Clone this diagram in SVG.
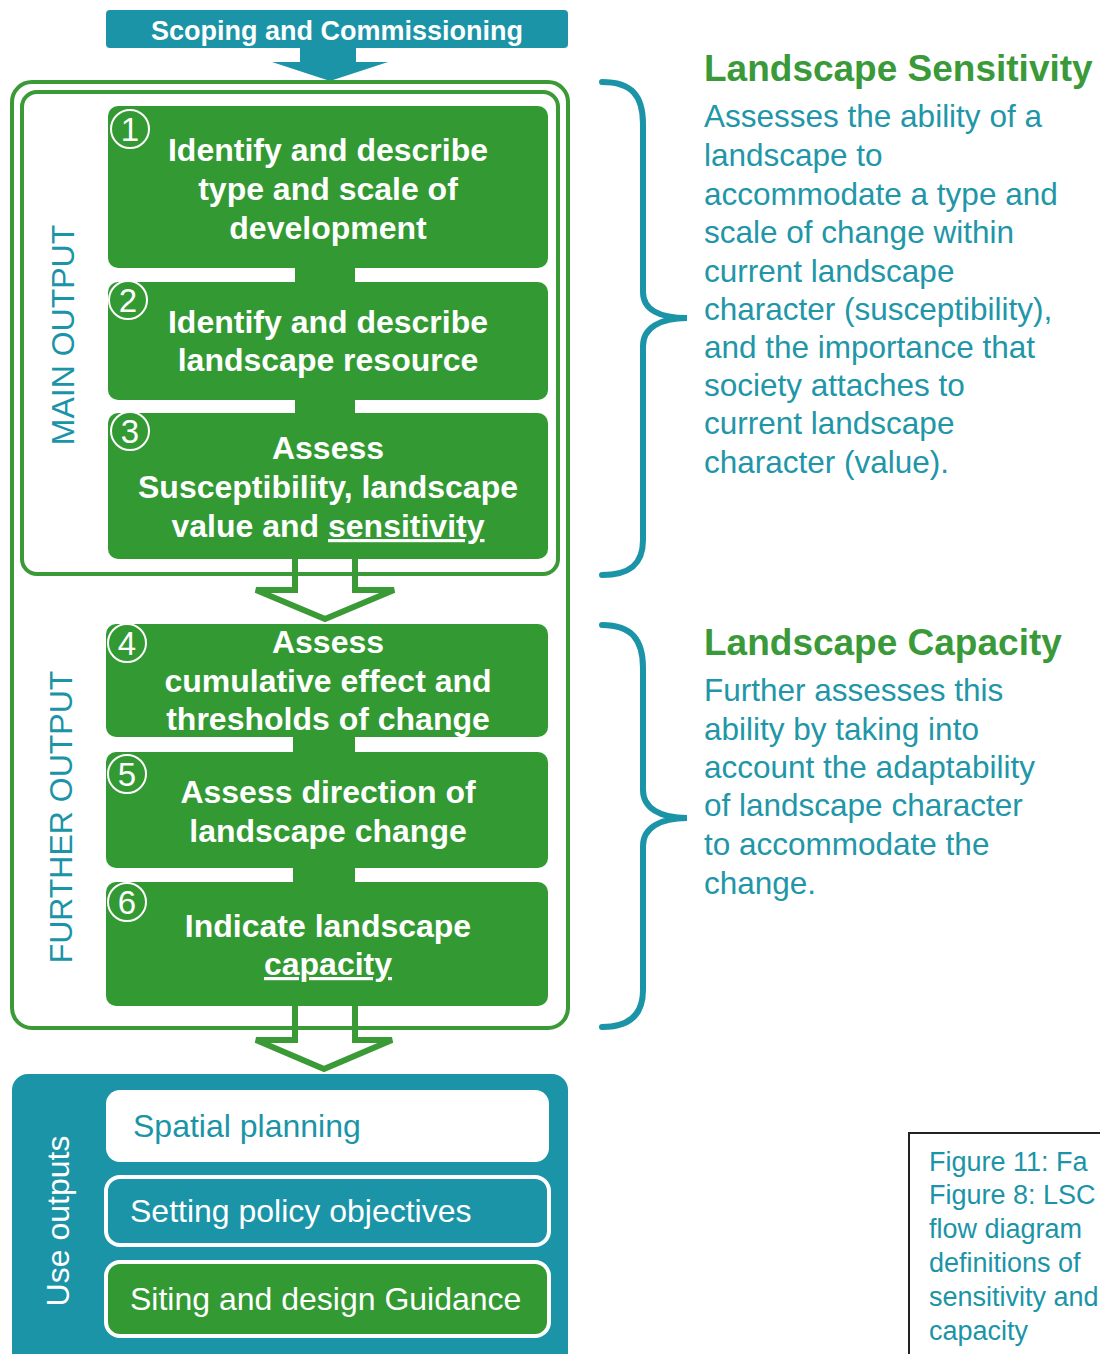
<svg xmlns="http://www.w3.org/2000/svg" width="1100" height="1354" viewBox="0 0 1100 1354">
<style>
.bx{fill:#339933}
.bt{font-family:"Liberation Sans",Arial,sans-serif;font-weight:bold;font-size:32px;fill:#fff;text-anchor:middle}
.num{font-family:"Liberation Sans",Arial,sans-serif;font-size:33px;fill:#fff;text-anchor:middle}
.nc{fill:none;stroke:#fff;stroke-width:2}
.side{font-family:"Liberation Sans",Arial,sans-serif;font-size:32px;fill:#1b94a8;text-anchor:middle}
.hd{font-family:"Liberation Sans",Arial,sans-serif;font-weight:bold;font-size:37px;fill:#3a9a3a}
.body{font-family:"Liberation Sans",Arial,sans-serif;font-size:31.5px;fill:#2196a8}
.use{font-family:"Liberation Sans",Arial,sans-serif;font-size:32px}
.cap{font-family:"Liberation Sans",Arial,sans-serif;font-size:27px;fill:#1b94a8}
.brace{fill:none;stroke:#1b94a8;stroke-width:6;stroke-linecap:round}
.frame{fill:none;stroke:#3a9a36;stroke-width:4}
.harrow{fill:#fff;stroke:#3a9a36;stroke-width:6;stroke-linejoin:miter}
</style>

<g id="connectors">
  <polygon points="300,47 356,47 356,62 388,62 330,81 272,62 300,62" fill="#1b94a8"/>
  <path class="harrow" d="M295,555 L295,590 L256,590 L325,619 L394,590 L355,590 L355,555"/>
  <path class="harrow" d="M295,1000 L295,1040 L256,1040 L324,1069 L392,1040 L355,1040 L355,1000"/>
  <rect x="295" y="264" width="60" height="22" class="bx"/>
  <rect x="295" y="396" width="60" height="21" class="bx"/>
  <rect x="293" y="734" width="62" height="22" class="bx"/>
  <rect x="293" y="864" width="62" height="22" class="bx"/>
</g>

<g id="scoping">
  <rect x="106" y="10" width="462" height="38" rx="4" fill="#1b94a8"/>
  <text x="337" y="40" font-family="'Liberation Sans',Arial,sans-serif" font-weight="bold" font-size="27" fill="#fff" text-anchor="middle">Scoping and Commissioning</text>
</g>

<g id="further-frame">
  <rect x="12" y="82" width="556" height="946" rx="20" class="frame"/>
  <text class="side" transform="translate(72,817) rotate(-90)">FURTHER OUTPUT</text>
</g>
<g id="main-frame">
  <rect x="22" y="92" width="536" height="482" rx="15" class="frame"/>
  <text class="side" transform="translate(74,335) rotate(-90)">MAIN OUTPUT</text>
</g>

<g id="step1">
  <rect x="108" y="106" width="440" height="162" rx="10" class="bx"/>
  <circle cx="130" cy="129" r="19" class="nc"/>
  <text x="130" y="141" class="num">1</text>
  <text x="328" y="161" class="bt">Identify and describe</text>
  <text x="328" y="200" class="bt">type and scale of</text>
  <text x="328" y="239" class="bt">development</text>
</g>
<g id="step2">
  <rect x="108" y="282" width="440" height="118" rx="10" class="bx"/>
  <circle cx="128" cy="300" r="19" class="nc"/>
  <text x="128" y="312" class="num">2</text>
  <text x="328" y="333" class="bt">Identify and describe</text>
  <text x="328" y="371" class="bt">landscape resource</text>
</g>
<g id="step3">
  <rect x="108" y="413" width="440" height="146" rx="10" class="bx"/>
  <circle cx="130" cy="431" r="19" class="nc"/>
  <text x="130" y="443" class="num">3</text>
  <text x="328" y="459" class="bt">Assess</text>
  <text x="328" y="498" class="bt">Susceptibility, landscape</text>
  <text x="328" y="537" class="bt">value and <tspan text-decoration="underline">sensitivity</tspan></text>
</g>
<g id="step4">
  <rect x="106" y="624" width="442" height="113" rx="10" class="bx"/>
  <circle cx="127" cy="643" r="19" class="nc"/>
  <text x="127" y="655" class="num">4</text>
  <text x="328" y="653" class="bt">Assess</text>
  <text x="328" y="692" class="bt">cumulative effect and</text>
  <text x="328" y="730" class="bt">thresholds of change</text>
</g>
<g id="step5">
  <rect x="106" y="752" width="442" height="116" rx="10" class="bx"/>
  <circle cx="127" cy="774" r="19" class="nc"/>
  <text x="127" y="786" class="num">5</text>
  <text x="328" y="803" class="bt">Assess direction of</text>
  <text x="328" y="842" class="bt">landscape change</text>
</g>
<g id="step6">
  <rect x="106" y="882" width="442" height="124" rx="10" class="bx"/>
  <circle cx="127" cy="902" r="19" class="nc"/>
  <text x="127" y="914" class="num">6</text>
  <text x="328" y="937" class="bt">Indicate landscape</text>
  <text x="328" y="975" class="bt"><tspan text-decoration="underline">capacity</tspan></text>
</g>

<g id="use-outputs">
  <rect x="12" y="1074" width="556" height="300" rx="16" fill="#1b94a8"/>
  <text class="use" fill="#fff" font-size="33" text-anchor="middle" transform="translate(69,1221) rotate(-90)">Use outputs</text>
</g>
<g id="spatial">
  <rect x="106" y="1090" width="443" height="72" rx="14" fill="#fff"/>
  <text x="133" y="1137" class="use" fill="#1b94a8">Spatial planning</text>
</g>
<g id="policy">
  <rect x="106" y="1177" width="443" height="68" rx="14" fill="#1b94a8" stroke="#fff" stroke-width="4"/>
  <text x="130" y="1222" class="use" fill="#fff">Setting policy objectives</text>
</g>
<g id="siting">
  <rect x="106" y="1262" width="443" height="74" rx="14" fill="#339933" stroke="#fff" stroke-width="4"/>
  <text x="130" y="1310" class="use" fill="#fff">Siting and design Guidance</text>
</g>

<g id="sensitivity-note">
  <path class="brace" d="M602,82 C632,82 643,96 643,124 L643,292 C643,310 660,318 687,318 C660,318 643,328 643,346 L643,540 C643,564 630,575 602,575"/>
  <text x="704" y="81" class="hd">Landscape Sensitivity</text>
  <text class="body">
    <tspan x="704" y="127">Assesses the ability of a</tspan>
    <tspan x="704" y="166">landscape to</tspan>
    <tspan x="704" y="205">accommodate a type and</tspan>
    <tspan x="704" y="243">scale of change within</tspan>
    <tspan x="704" y="282">current landscape</tspan>
    <tspan x="704" y="320">character (susceptibility),</tspan>
    <tspan x="704" y="358">and the importance that</tspan>
    <tspan x="704" y="396">society attaches to</tspan>
    <tspan x="704" y="434">current landscape</tspan>
    <tspan x="704" y="473">character (value).</tspan>
  </text>
</g>

<g id="capacity-note">
  <path class="brace" d="M602,625 C632,625 643,640 643,668 L643,790 C643,808 660,818 687,818 C660,818 643,828 643,846 L643,990 C643,1014 630,1027 602,1027"/>
  <text x="704" y="655" class="hd">Landscape Capacity</text>
  <text class="body">
    <tspan x="704" y="701">Further assesses this</tspan>
    <tspan x="704" y="740">ability by taking into</tspan>
    <tspan x="704" y="778">account the adaptability</tspan>
    <tspan x="704" y="816">of landscape character</tspan>
    <tspan x="704" y="855">to accommodate the</tspan>
    <tspan x="704" y="894">change.</tspan>
  </text>
</g>

<g id="caption">
  <rect x="909" y="1133" width="220" height="240" fill="none" stroke="#222" stroke-width="2"/>
  <text class="cap">
    <tspan x="929" y="1171">Figure 11: Fa</tspan>
    <tspan x="929" y="1204">Figure 8: LSC</tspan>
    <tspan x="929" y="1238">flow diagram</tspan>
    <tspan x="929" y="1272">definitions of</tspan>
    <tspan x="929" y="1306">sensitivity and</tspan>
    <tspan x="929" y="1340">capacity</tspan>
  </text>
</g>
</svg>
